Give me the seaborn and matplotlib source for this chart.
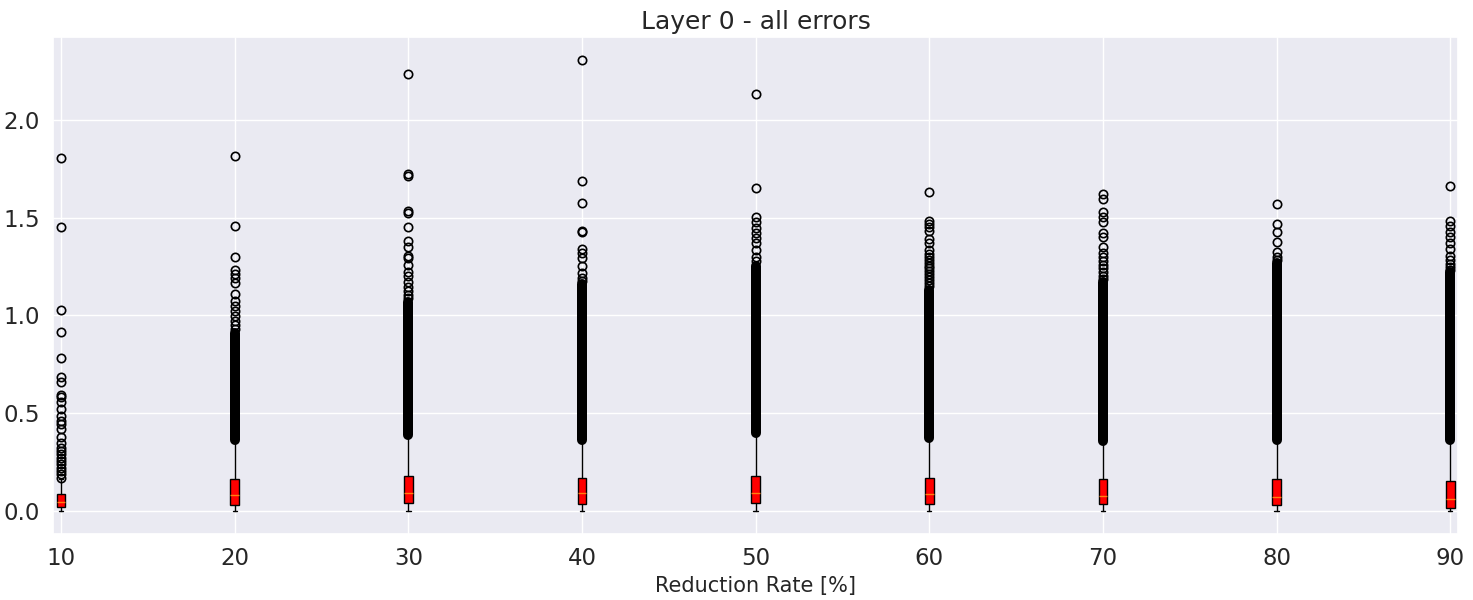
import numpy as np
import seaborn as sns
import matplotlib
matplotlib.use("Agg")
import matplotlib.pyplot as plt

# reduction rates (box positions)
rates = [10, 20, 30, 40, 50, 60, 70, 80, 90]

# box statistics
whis_lo = [0.000, 0.004, 0.001, 0.001, 0.001, 0.001, 0.001, 0.001, 0.000]
q1 = [0.020, 0.035, 0.043, 0.037, 0.042, 0.037, 0.037, 0.032, 0.017]
med = [0.046, 0.084, 0.093, 0.093, 0.093, 0.088, 0.079, 0.074, 0.064]
q3 = [0.087, 0.165, 0.179, 0.169, 0.179, 0.173, 0.164, 0.164, 0.157]
whis_hi = [0.165, 0.360, 0.385, 0.360, 0.395, 0.370, 0.355, 0.360, 0.360]

# range where the outliers are so many they form a solid black column
dense_lo = [np.nan, 0.366, 0.389, 0.366, 0.399, 0.373, 0.360, 0.365, 0.366]
dense_hi = [np.nan, 0.910, 1.070, 1.160, 1.250, 1.130, 1.170, 1.270, 1.220]

# single outliers that can still be told apart
fliers = [
    [1.805, 1.453, 1.027, 0.915, 0.783, 0.686, 0.659, 0.593, 0.583, 0.559, 0.525,
     0.486, 0.461, 0.444, 0.422, 0.380, 0.351, 0.325, 0.308, 0.292, 0.275, 0.258,
     0.241, 0.224, 0.207, 0.190, 0.173],
    [1.813, 1.456, 1.298, 1.233, 1.213, 1.191, 1.166, 1.111, 1.072, 1.047, 1.021,
     0.996, 0.970, 0.950, 0.930],
    [2.230, 1.722, 1.712, 1.535, 1.525, 1.454, 1.378, 1.349, 1.306, 1.293, 1.259,
     1.220, 1.200, 1.171, 1.145, 1.125, 1.105, 1.090],
    [2.305, 1.685, 1.573, 1.433, 1.428, 1.339, 1.318, 1.293, 1.250, 1.217, 1.191,
     1.175],
    [2.132, 1.651, 1.505, 1.479, 1.446, 1.420, 1.395, 1.369, 1.335, 1.301, 1.276],
    [1.628, 1.483, 1.466, 1.450, 1.429, 1.389, 1.368, 1.334, 1.315, 1.300, 1.285,
     1.270, 1.255, 1.240, 1.225, 1.210, 1.195, 1.180, 1.165, 1.150],
    [1.619, 1.594, 1.529, 1.504, 1.478, 1.419, 1.399, 1.351, 1.317, 1.300, 1.280,
     1.260, 1.240, 1.220, 1.200, 1.185],
    [1.568, 1.466, 1.426, 1.373, 1.324, 1.300, 1.283],
    [1.661, 1.483, 1.457, 1.428, 1.400, 1.369, 1.339, 1.305, 1.284, 1.264, 1.245,
     1.233],
]

sns.set_theme(style='darkgrid')
fig, ax = plt.subplots(figsize=(14.73, 6), dpi=100)

stats = []
for i in range(len(rates)):
    stats.append({'whislo': whis_lo[i], 'q1': q1[i], 'med': med[i], 'q3': q3[i],
                  'whishi': whis_hi[i], 'fliers': fliers[i]})

ax.bxp(stats, positions=rates, widths=0.5, patch_artist=True,
       boxprops=dict(facecolor='red', edgecolor='black', linewidth=1),
       medianprops=dict(color='#ff7f0e', linewidth=1),
       whiskerprops=dict(color='black', linewidth=1),
       capprops=dict(color='black', linewidth=1),
       flierprops=dict(marker='o', markerfacecolor='none', markeredgecolor='black',
                       markersize=6, markeredgewidth=1.2))

# solid column of overlapping outliers
ax.vlines(rates, dense_lo, dense_hi, colors='black', linewidth=7.2, capstyle='round')

ax.set_xlim(9.54, 90.46)
ax.set_xticks(rates)
ax.set_xticklabels([str(r) for r in rates])
ax.tick_params(labelsize=16.5)
ax.set_xlabel('Reduction Rate [%]', fontsize=15)
ax.set_title('Layer 0 - all errors', fontsize=18)

plt.subplots_adjust(left=0.036, right=0.99, top=0.938, bottom=0.11)
plt.savefig('out.png', dpi=100)
